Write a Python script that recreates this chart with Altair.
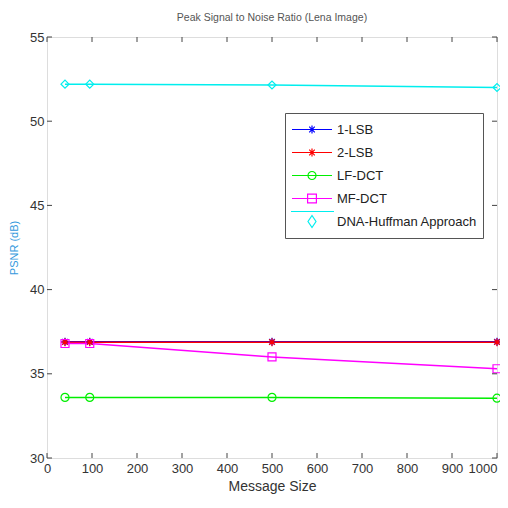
import altair as alt
import pandas as pd

sizes = [40, 95, 500, 1000]
series_names = ["1-LSB", "2-LSB", "LF-DCT", "MF-DCT", "DNA-Huffman Approach"]
lsb1 = [36.9, 36.9, 36.9, 36.9]
lsb2 = [36.88, 36.88, 36.88, 36.88]
lfdct = [33.6, 33.6, 33.6, 33.55]
mfdct = [36.8, 36.8, 36.0, 35.3]
dna = [52.2, 52.2, 52.15, 52.0]
colors = ["#0000ff", "#ff0000", "#00ee00", "#ff00ff", "#00eeee"]
x_ticks = list(range(0, 1001, 100))
y_ticks = [30, 35, 40, 45, 50, 55]

W, H = 450, 421

rows = []
for name, vals in zip(series_names, [lsb1, lsb2, lfdct, mfdct, dna]):
    for i, (s, v) in enumerate(zip(sizes, vals)):
        rows.append({"series": name, "size": s, "psnr": v, "order": i})
df = pd.DataFrame(rows)

star = "M-1,0L1,0M0,-1L0,1M-0.7,-0.7L0.7,0.7M-0.7,0.7L0.7,-0.7"
marker_shapes = [star, star, "circle", "square", "diamond"]

leg_star = "M-1,0L1,0M-0.2,0L0.2,0M0,-0.2L0,0.2M-0.14,-0.14L0.14,0.14M-0.14,0.14L0.14,-0.14"
leg_circle = "M-1,0L1,0M-0.2,0A0.2,0.2 0 1,0 0.2,0A0.2,0.2 0 1,0 -0.2,0"
leg_square = "M-1,0L1,0M-0.22,-0.22L0.22,-0.22L0.22,0.22L-0.22,0.22Z"
leg_diamond = "M-1.1,-0.5L1.1,-0.5M0,-0.3L0.2,0L0,0.3L-0.2,0Z"
legend_shapes = [leg_star, leg_star, leg_circle, leg_square, leg_diamond]

xscale = alt.Scale(domain=[0, 1000], nice=False)
yscale = alt.Scale(domain=[30, 55], nice=False)
cscale = alt.Scale(domain=series_names, range=colors)

font = "Liberation Sans"

x_enc = alt.X(
    "size:Q", scale=xscale, title="Message Size",
    axis=alt.Axis(values=x_ticks, ticks=False, domain=False, grid=False, format="d",
                  labelFontSize=13, labelColor="#333", labelFont=font,
                  labelPadding=4, titleFontSize=14, titleColor="#333",
                  titleFont=font, titleFontWeight="normal", titlePadding=4,
                  labelAlign={"condition": {"test": "datum.value == 1000", "value": "right"}, "value": "center"}),
)
y_enc = alt.Y(
    "psnr:Q", scale=yscale, title="PSNR (dB)",
    axis=alt.Axis(values=y_ticks, ticks=False, domain=False, grid=False,
                  labelFontSize=13, labelColor="#333", labelFont=font,
                  labelPadding=3, titleFontSize=11, titleColor="#3399dd",
                  titleFont=font, titleFontWeight="normal", titlePadding=10),
)

lines = alt.Chart(df).mark_line(strokeWidth=1.5).encode(
    x=x_enc, y=y_enc,
    color=alt.Color("series:N", scale=cscale, legend=None),
    detail="series:N",
    order="order:Q",
)

points = alt.Chart(df).mark_point(filled=False, size=64, strokeWidth=1.2, opacity=1).encode(
    x=alt.X("size:Q", scale=xscale),
    y=alt.Y("psnr:Q", scale=yscale),
    color=alt.Color("series:N", scale=cscale, legend=None),
    shape=alt.Shape("series:N", scale=alt.Scale(domain=series_names, range=marker_shapes), legend=None),
)

leg = alt.Legend(
    title=None, orient="none", legendX=238, legendY=76,
    symbolSize=1600, clipHeight=21, rowPadding=2, symbolStrokeWidth=1.2, symbolOpacity=1,
    labelFontSize=13, labelColor="#222", labelFont=font, labelOffset=4,
    fillColor="white", strokeColor="#555", padding=6, labelLimit=200,
)

legend_layer = alt.Chart(df).mark_point(filled=False, opacity=0).encode(
    x=alt.X("size:Q", scale=xscale),
    y=alt.Y("psnr:Q", scale=yscale),
    color=alt.Color("series:N", scale=cscale, legend=leg),
    shape=alt.Shape("series:N", scale=alt.Scale(domain=series_names, range=legend_shapes), legend=leg),
)

xt = pd.DataFrame({"t": x_ticks})
yt = pd.DataFrame({"t": y_ticks})
tick_col = "#444"
bt = alt.Chart(xt).mark_rule(color=tick_col).encode(
    x=alt.X("t:Q", scale=xscale), y=alt.value(H), y2=alt.value(H - 5))
tt = alt.Chart(xt).mark_rule(color=tick_col).encode(
    x=alt.X("t:Q", scale=xscale), y=alt.value(0), y2=alt.value(5))
lt = alt.Chart(yt).mark_rule(color=tick_col).encode(
    y=alt.Y("t:Q", scale=yscale), x=alt.value(0), x2=alt.value(5))
rt = alt.Chart(yt).mark_rule(color=tick_col).encode(
    y=alt.Y("t:Q", scale=yscale), x=alt.value(W), x2=alt.value(W - 5))

chart = alt.layer(lines, points, bt, tt, lt, rt, legend_layer).resolve_scale(
    color="independent", shape="independent"
).properties(
    width=W, height=H,
    title=alt.TitleParams("Peak Signal to Noise Ratio (Lena Image)", fontSize=10.5,
                          color="#555", font=font, fontWeight="normal",
                          anchor="middle", frame="group", offset=8),
    autosize=alt.AutoSizeParams(type="none"),
    padding={"left": 39, "top": 29, "right": 3, "bottom": 42},
).configure_view(stroke="#555", strokeWidth=1.2).configure(background="white")

chart.save("out.html", embed_options={"renderer": "svg", "actions": False})
